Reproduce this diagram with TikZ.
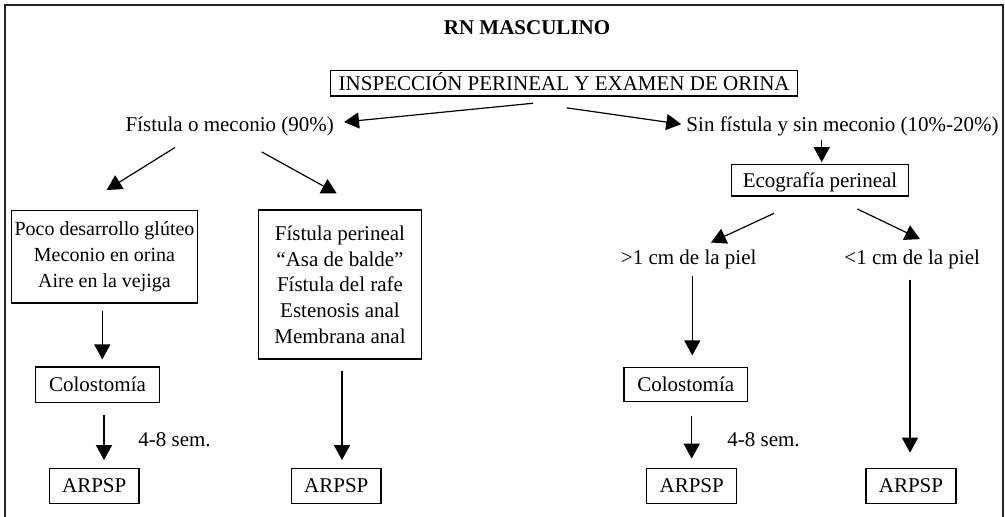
\documentclass[tikz,border=0pt]{standalone}
\usepackage{fontspec}
\setmainfont{Liberation Serif}
\usetikzlibrary{arrows.meta}
\begin{document}
\begin{tikzpicture}[x=1pt,y=-1pt,
  every node/.style={font=\fontsize{21}{25.7}\selectfont, inner sep=0pt},
  box/.style={draw, line width=1.2pt, text height=14pt, text depth=0pt},
  mbox/.style={draw, line width=1.2pt, align=center},
  lbl/.style={text height=14pt, text depth=0pt},
  arr/.style={line width=1.2pt, -{Triangle[length=15pt,width=16pt]}}]
  % page and outer frame
  \path[use as bounding box, clip] (0,0) rectangle (1005,517);
  \draw[line width=1.3pt, black!85] (5,5) rectangle (1003,530);

  % title and first step
  \node[font=\fontsize{21}{25.7}\selectfont\bfseries] (title) at (527,28) {RN MASCULINO};
  \node[box, minimum width=467pt, minimum height=25.3pt] (ins) at (564.2,83.3)
    {INSPECCIÓN PERINEAL Y EXAMEN DE ORINA};

  % branch labels
  \node[lbl] (fis) at (229.7,124.2) {Fístula o meconio (90\%)};
  \node[lbl] (sin) at (842.5,124.2) {Sin fístula y sin meconio (10\%-20\%)};

  % left branch
  \node[mbox, font=\fontsize{20}{25.7}\selectfont, minimum width=185.6pt, minimum height=92.3pt]
    (boxL) at (104.5,256.8) {Poco desarrollo glúteo\\Meconio en orina\\Aire en la vejiga};
  \node[mbox, minimum width=163.4pt, minimum height=149pt] (boxR) at (340,284.5)
    {Fístula perineal\\“Asa de balde”\\Fístula del rafe\\Estenosis anal\\Membrana anal};
  \node[box, minimum width=123.6pt, minimum height=35.3pt] (colL) at (97.5,384.7) {Colostomía};
  \node[lbl] (sem1) at (174.5,439) {4-8 sem.};
  \node[box, minimum width=89.7pt, minimum height=35pt] (a1) at (94.2,485.8) {ARPSP};
  \node[box, minimum width=89.3pt, minimum height=35pt] (a2) at (336.3,485.8) {ARPSP};

  % right branch
  \node[box, minimum width=176.6pt, minimum height=31.7pt] (eco) at (820,180.2) {Ecografía perineal};
  \node[lbl] (gt) at (688.7,257.5) {>1 cm de la piel};
  \node[lbl] (lt) at (912.2,257.5) {<1 cm de la piel};
  \node[box, minimum width=123.7pt, minimum height=34pt] (colR) at (685.8,384.7) {Colostomía};
  \node[lbl] (sem2) at (763.5,439) {4-8 sem.};
  \node[box, minimum width=90pt, minimum height=35pt] (a3) at (691.7,485.8) {ARPSP};
  \node[box, minimum width=90pt, minimum height=35pt] (a4) at (911,485.8) {ARPSP};

  % connectors
  \draw[arr] ([xshift=-31.2pt,yshift=-6.7pt]ins.south) -- ([xshift=10pt,yshift=2.2pt]fis.east);
  \draw[arr] ([xshift=2.5pt,yshift=-11.3pt]ins.south) -- ([xshift=-5pt]sin.west);
  \draw[arr] ([xshift=-54.7pt,yshift=-16.1pt]fis.south) -- ([xshift=2.2pt,yshift=20pt]boxL.north);
  \draw[arr] ([xshift=32pt,yshift=-20.5pt]fis.south) -- ([xshift=-3.3pt,yshift=16pt]boxR.north);
  \draw[arr] ([xshift=-20.8pt,yshift=-9pt]sin.south) -- ([xshift=1.7pt,yshift=1.6pt]eco.north);
  \draw[arr] ([xshift=-46pt,yshift=-16.7pt]eco.south) -- ([xshift=22.3pt,yshift=7.8pt]gt.north);
  \draw[arr] ([xshift=37.3pt,yshift=-12.3pt]eco.south) -- ([xshift=7.8pt,yshift=11.2pt]lt.north);
  \draw[arr] ([xshift=-2.2pt,yshift=-7.7pt]boxL.south) -- ([xshift=4.8pt,yshift=7pt]colL.north);
  \draw[arr] ([xshift=6.5pt,yshift=-11.7pt]colL.south) -- ([xshift=9.8pt,yshift=7.6pt]a1.north);
  \draw[arr] ([xshift=2pt,yshift=-11pt]boxR.south) -- ([xshift=5.7pt,yshift=7.6pt]a2.north);
  \draw[arr] ([xshift=3.6pt,yshift=-11.5pt]gt.south) -- ([xshift=6.5pt,yshift=11.7pt]colR.north);
  \draw[arr] ([xshift=5.9pt,yshift=-13.3pt]colR.south) -- ([yshift=9pt]a3.north);
  \draw[arr] ([xshift=-2.2pt,yshift=-14.8pt]lt.south) -- ([xshift=-1pt,yshift=15pt]a4.north);
\end{tikzpicture}
\end{document}
